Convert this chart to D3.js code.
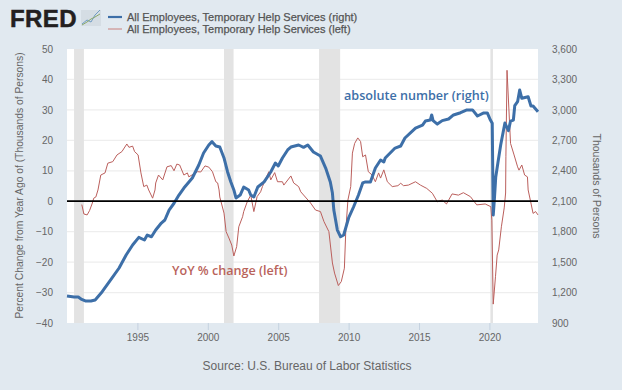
<!DOCTYPE html>
<html>
<head>
<meta charset="utf-8">
<script src="https://cdn.jsdelivr.net/npm/d3@7"></script>
<style>
  html, body { margin: 0; padding: 0; background: #e1e9f0; }
  svg { display: block; }
  text { font-family: "Liberation Sans", Arial, sans-serif; }
  .axis text { fill: #666; font-size: 10px; }
  .axis path { display: none; }
</style>
</head>
<body>
<div id="chart"></div>
<script>
// Temp help employment level, thousands of persons (right axis)
const levelYears = [1990.0,1990.5,1990.8,1991.0,1991.3,1991.7,1992.0,1992.5,1993.1,1993.7,1994.2,1994.66,1995.1,1995.5,1995.7,1996.0,1996.3,1996.7,1996.95,1997.25,1997.6,1997.95,1998.3,1998.9,1999.36,1999.7,2000.07,2000.3,2000.57,2000.85,2001.15,2001.4,2001.63,2001.85,2002.0,2002.3,2002.55,2002.9,2003.05,2003.27,2003.55,2004.0,2004.47,2004.8,2005.0,2005.3,2005.67,2005.9,2006.45,2006.6,2006.8,2007.1,2007.5,2008.0,2008.37,2008.7,2008.85,2008.95,2009.2,2009.43,2009.65,2010.0,2010.35,2010.7,2011.0,2011.2,2011.55,2011.9,2012.27,2012.5,2012.6,2013.3,2013.7,2014.0,2014.75,2015.25,2015.45,2015.8,2015.9,2016.0,2016.3,2016.65,2017.1,2017.45,2017.95,2018.4,2018.8,2019.15,2019.6,2019.85,2020.07,2020.2,2020.27,2020.35,2020.45,2020.6,2020.8,2021.1,2021.35,2021.5,2021.7,2021.8,2022.0,2022.15,2022.3,2022.75,2022.95,2023.1,2023.45];
const levelValues = [1166,1156,1156,1136,1117,1117,1127,1208,1324,1442,1570,1669,1744,1718,1767,1750,1816,1885,1915,2013,2080,2161,2230,2329,2457,2575,2654,2687,2644,2634,2526,2391,2292,2211,2132,2161,2240,2211,2161,2142,2240,2290,2388,2476,2447,2526,2605,2634,2654,2644,2631,2654,2585,2545,2427,2290,2181,2013,1816,1750,1767,1935,2043,2161,2280,2290,2290,2427,2506,2487,2526,2624,2644,2723,2821,2851,2890,2900,2950,2894,2860,2894,2910,2950,2972,3000,3000,2940,2970,2970,2900,2868,1964,2112,2339,2476,2654,2870,2795,2890,2900,3041,3081,3196,3114,3130,3038,3038,2982];

// Year over year percent change (left axis)
const changeYears = [1991.05,1991.2,1991.43,1991.6,1991.8,1991.9,1992.05,1992.2,1992.4,1992.7,1992.9,1993.25,1993.55,1993.9,1994.25,1994.4,1994.66,1994.8,1995.05,1995.25,1995.45,1995.67,1995.8,1996.08,1996.25,1996.3,1996.5,1996.8,1997.1,1997.4,1997.6,1997.8,1998.0,1998.3,1998.55,1998.65,1999.27,1999.5,1999.8,2000.07,2000.33,2000.57,2000.7,2000.8,2000.85,2001.15,2001.3,2001.5,2001.7,2001.85,2002.05,2002.2,2002.47,2002.55,2002.8,2003.05,2003.27,2003.5,2003.75,2003.88,2004.33,2004.47,2004.75,2004.95,2005.3,2005.4,2005.9,2006.1,2006.45,2006.6,2007.3,2007.65,2008.0,2008.25,2008.6,2008.85,2009.0,2009.27,2009.48,2009.7,2009.8,2009.95,2010.15,2010.27,2010.43,2010.65,2010.85,2011.0,2011.2,2011.4,2011.67,2011.9,2012.13,2012.27,2012.5,2012.75,2013.1,2013.5,2013.7,2013.9,2014.25,2014.75,2015.1,2015.55,2015.95,2016.3,2016.65,2016.95,2017.35,2017.8,2018.15,2018.65,2019.1,2019.7,2020.1,2020.17,2020.27,2020.43,2020.55,2020.66,2020.85,2021.05,2021.15,2021.17,2021.25,2021.5,2021.75,2022.0,2022.1,2022.3,2022.5,2022.7,2022.75,2022.93,2023.1,2023.28,2023.45];
const changeValues = [-1.1,-4.2,-4.5,-3.1,-0.6,1.0,1.4,3.7,8.6,9.3,12.5,13,15.2,16.3,18.8,17.7,18.1,16.3,15.2,9.3,4.8,5.3,3.7,1.0,3.7,6,8.6,7,11.3,11.7,10,12.2,11.9,8.6,9.3,8,9.7,9.6,11.6,11.2,9.7,6.4,6,3.7,1.4,-3.9,-10,-12.1,-14.4,-18,-14.9,-8.4,-5.1,-3.4,-0.2,2,-3.4,1.5,3.1,4.8,9.7,7,9.4,6.4,6.4,5.3,8.3,6,4.8,3.1,-0.6,-2.9,-3.4,-6.7,-10,-20.3,-23.6,-27.7,-26.4,-22,-9.5,0.4,4.8,15.8,19,20.8,19.6,14.6,15.2,9.7,8.6,6.4,9.3,7.6,10.3,6.4,4.8,5.1,5.9,5.1,5.3,6.4,5.3,4.2,2.6,-0.2,0.4,-0.9,2.4,2,2.8,1.5,-1.2,-0.9,-1.8,-6.2,-33.8,-24.8,-17.7,-16,-8.4,-2.2,2.7,14.6,43,19,15.2,11.3,10.2,11.9,8.6,8,3.7,-0.2,-4,-3.4,-4.5];

const recessionStarts = [1990.5, 2001.15, 2007.9, 2020.07];
const recessionEnds = [1991.2, 2001.83, 2009.4, 2020.25];

const xTicks = [1995, 2000, 2005, 2010, 2015, 2020];
const leftTicks = [50, 40, 30, 20, 10, 0, -10, -20, -30, -40];
const rightTicks = [900, 1200, 1500, 1800, 2100, 2400, 2700, 3000, 3300, 3600];

const legendLabels = ["All Employees, Temporary Help Services (right)", "All Employees, Temporary Help Services (left)"];

const blue = "#3d6fa8", red = "#bb5f5c";
const width = 622, height = 390;
const margin = { top: 49, right: 84, bottom: 67, left: 67 };

const svg = d3.select("#chart").append("svg")
    .attr("width", width)
    .attr("height", height);

const x = d3.scaleLinear().domain([1990, 2023.45]).range([margin.left, width - margin.right]);
const yLeft = d3.scaleLinear().domain([-40, 50]).range([height - margin.bottom, margin.top]);
const yRight = d3.scaleLinear().domain([900, 3600]).range([height - margin.bottom, margin.top]);

// Plot background
svg.append("rect")
    .attr("x", margin.left)
    .attr("y", margin.top)
    .attr("width", width - margin.left - margin.right)
    .attr("height", height - margin.top - margin.bottom)
    .attr("fill", "#fff");

// Gridlines
svg.selectAll(".grid")
    .data(leftTicks.slice(1, -1))
    .enter().append("line")
    .attr("x1", margin.left)
    .attr("x2", width - margin.right)
    .attr("y1", d => yLeft(d))
    .attr("y2", d => yLeft(d))
    .attr("stroke", "#eeeeee")
    .attr("stroke-width", 1.2);

// Recession bands
svg.selectAll(".recession")
    .data(recessionStarts)
    .enter().append("rect")
    .attr("x", d => x(d))
    .attr("y", margin.top)
    .attr("width", (d, i) => x(recessionEnds[i]) - x(d))
    .attr("height", height - margin.top - margin.bottom)
    .attr("fill", "#e3e3e3");

// Axes
const xAxis = svg.append("g")
    .attr("class", "axis")
    .attr("transform", "translate(0," + (height - margin.bottom) + ")")
    .call(d3.axisBottom(x).tickValues(xTicks).tickFormat(d3.format("d")).tickSize(7).tickPadding(4));
xAxis.selectAll("line").attr("stroke", "#c5d2e0");

const leftAxis = svg.append("g")
    .attr("class", "axis")
    .attr("transform", "translate(" + (margin.left - 14) + ",0)")
    .call(d3.axisLeft(yLeft).tickValues(leftTicks).tickSize(0).tickPadding(0));

const rightAxis = svg.append("g")
    .attr("class", "axis")
    .attr("transform", "translate(" + (width - margin.right + 14) + ",0)")
    .call(d3.axisRight(yRight).tickValues(rightTicks).tickSize(0).tickPadding(0).tickFormat(d3.format(",")));

svg.append("text")
    .attr("transform", "translate(23,185.5) rotate(-90)")
    .attr("text-anchor", "middle")
    .attr("fill", "#666")
    .attr("font-size", 10.3)
    .text("Percent Change from Year Ago of (Thousands of Persons)");

svg.append("text")
    .attr("transform", "translate(593,186) rotate(90)")
    .attr("text-anchor", "middle")
    .attr("fill", "#666")
    .attr("font-size", 10.5)
    .text("Thousands of Persons");

// Series
const changeLine = d3.line()
    .x(d => x(d))
    .y((d, i) => yLeft(changeValues[i]));
const levelLine = d3.line()
    .x(d => x(d))
    .y((d, i) => yRight(levelValues[i]));

svg.append("path")
    .attr("d", changeLine(changeYears))
    .attr("fill", "none")
    .attr("stroke", red)
    .attr("stroke-width", 1);

svg.append("path")
    .attr("d", levelLine(levelYears))
    .attr("fill", "none")
    .attr("stroke", blue)
    .attr("stroke-width", 3)
    .attr("stroke-linejoin", "round");

// Zero line drawn over the series
svg.append("line")
    .attr("x1", margin.left)
    .attr("x2", width - margin.right)
    .attr("y1", yLeft(0))
    .attr("y2", yLeft(0))
    .attr("stroke", "#000")
    .attr("stroke-width", 1.8);

// Annotations
svg.append("text")
    .attr("x", 344)
    .attr("y", 100)
    .attr("fill", blue)
    .attr("font-size", 12.6)
    .attr("font-weight", 600)
    .style("font-family", "'Open Sans', sans-serif")
    .text("absolute number (right)");

svg.append("text")
    .attr("x", 172)
    .attr("y", 275)
    .attr("fill", "#b9635b")
    .attr("font-size", 12.6)
    .attr("font-weight", 600)
    .style("font-family", "'Open Sans', sans-serif")
    .text("YoY % change (left)");

// Legend
legendLabels.forEach((label, i) => {
    const ly = 17 + i * 12;
    svg.append("line")
        .attr("x1", 108).attr("x2", 122)
        .attr("y1", ly).attr("y2", ly)
        .attr("stroke", i === 0 ? blue : "#c9807d")
        .attr("stroke-width", i === 0 ? 2.2 : 1);
    svg.append("text")
        .attr("x", 127)
        .attr("y", ly + 3.5)
        .attr("fill", "#555")
        .attr("stroke", "#555")
        .attr("stroke-width", 0.25)
        .attr("font-size", 11)
        .text(label);
});

// FRED logo
svg.append("text")
    .attr("x", 10)
    .attr("y", 26.5)
    .attr("fill", "#231f20")
    .attr("stroke", "#231f20")
    .attr("stroke-width", 0.5)
    .attr("font-size", 24)
    .attr("font-weight", "bold")
    .attr("letter-spacing", 0.4)
    .text("FRED");

const logoX = [82, 87, 91, 95, 100];
const logoA = [24, 20, 22, 15, 10];
const logoB = [25, 22, 19, 17, 14];
const logoLine = vals => d3.line().x(d => d).y((d, i) => vals[i])(logoX);
svg.append("rect")
    .attr("x", 81).attr("y", 10).attr("width", 20).attr("height", 16)
    .attr("fill", "#d5dde4");
svg.append("path").attr("d", logoLine(logoA)).attr("fill", "none").attr("stroke", "#6f9cc4").attr("stroke-width", 1);
svg.append("path").attr("d", logoLine(logoB)).attr("fill", "none").attr("stroke", "#8aa86b").attr("stroke-width", 1);

// Source
svg.append("text")
    .attr("x", 307)
    .attr("y", 370)
    .attr("text-anchor", "middle")
    .attr("fill", "#666")
    .attr("font-size", 12)
    .text("Source: U.S. Bureau of Labor Statistics");
</script>
</body>
</html>
